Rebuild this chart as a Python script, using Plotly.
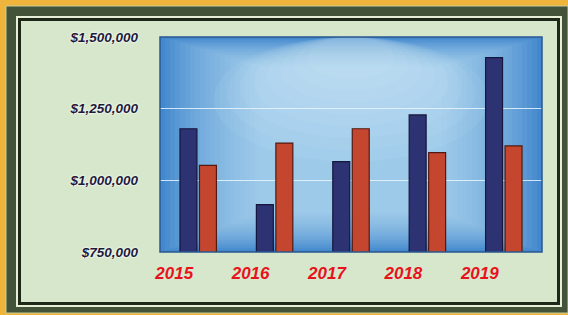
import plotly.graph_objects as go

years = ["2015", "2016", "2017", "2018", "2019"]
series_a = [1180000, 915000, 1065000, 1228000, 1428000]
series_b = [1052000, 1130000, 1180000, 1097000, 1120000]
y_ticks = [750000, 1000000, 1250000, 1500000]
y_tick_labels = ["$750,000", "$1,000,000", "$1,250,000", "$1,500,000"]

W, H = 568, 315
ML, MR, MT, MB = 160, 26, 37, 63
PW, PH = W - ML - MR, H - MT - MB


def px_rect(x0, y0, x1, y1, fill, line_color=None, line_width=0):
    return dict(
        type="rect", xref="paper", yref="paper", layer="below",
        x0=(x0 - ML) / PW, x1=(x1 - ML) / PW,
        y0=(H - MB - y1) / PH, y1=(H - MB - y0) / PH,
        fillcolor=fill,
        line=dict(color=line_color or fill, width=line_width),
    )


shapes = [
    px_rect(6, 6, 568, 313, "#42533a", "#c9cf98", 1),
    px_rect(16, 16, 562, 307, "#e6eed6"),
    px_rect(18, 18, 560, 305, "#1e2818"),
    px_rect(21, 21, 557, 302, "#d6e7cb"),
]

# blue plot-area background with a lighter centre
shapes.append(dict(
    type="rect", xref="x domain", yref="y domain", layer="below",
    x0=0, x1=1, y0=0, y1=1, fillcolor="#4388ce", line=dict(width=0),
))
for i in range(1, 21):
    shapes.append(dict(
        type="rect", xref="x domain", yref="y domain", layer="below",
        x0=5 * i / PW, x1=1 - 5 * i / PW,
        y0=2.0 * i / PH, y1=1 - 1.5 * i / PH,
        fillcolor="rgba(200,232,252,0.06)", line=dict(width=0),
    ))
for i in range(8):
    shapes.append(dict(
        type="circle", xref="x domain", yref="y domain", layer="below",
        x0=0.14 + 0.035 * i, x1=0.86 - 0.035 * i,
        y0=0.42 + 0.055 * i, y1=1.0,
        fillcolor="rgba(240,250,255,0.06)", line=dict(width=0),
    ))
shapes.append(dict(
    type="rect", xref="x domain", yref="y domain", layer="above",
    x0=0, x1=1, y0=0, y1=1,
    fillcolor="rgba(0,0,0,0)", line=dict(color="#2a5890", width=1.5),
))

fig = go.Figure()
fig.add_trace(go.Bar(
    x=years, y=series_a, name="A",
    marker=dict(color="#2d3272", line=dict(color="#15173c", width=1.2)),
))
fig.add_trace(go.Bar(
    x=years, y=series_b, name="B",
    marker=dict(color="#c4462f", line=dict(color="#531a10", width=1.2)),
))

fig.update_layout(
    width=W, height=H,
    margin=dict(l=ML, r=MR, t=MT, b=MB),
    paper_bgcolor="#eeb43c",
    plot_bgcolor="rgba(0,0,0,0)",
    barmode="group", bargap=0.49, bargroupgap=0.13,
    showlegend=False,
    shapes=shapes,
    font=dict(family="Liberation Sans"),
)
fig.update_xaxes(
    showgrid=False, showline=False, ticks="",
    ticklabelstandoff=9, ticklabelshift=-24,
    tickfont=dict(family="Liberation Sans", size=17, color="#e8121c",
                  weight="bold", style="italic"),
)
fig.update_yaxes(
    range=[750000, 1500000],
    tickvals=y_ticks, ticktext=y_tick_labels,
    showgrid=True, gridcolor="rgba(232,246,255,0.85)", gridwidth=1,
    zeroline=False, showline=False, ticks="",
    ticklabelstandoff=21,
    tickfont=dict(family="Liberation Sans", size=13.5, color="#1c1a3a",
                  weight="bold", style="italic",
                  shadow="0px 0px 3px #ffffff, 0px 0px 2px #ffffff"),
)

fig.write_html(
    "out.html",
    config={"displayModeBar": False},
    post_script="document.body.style.margin='0';",
)
